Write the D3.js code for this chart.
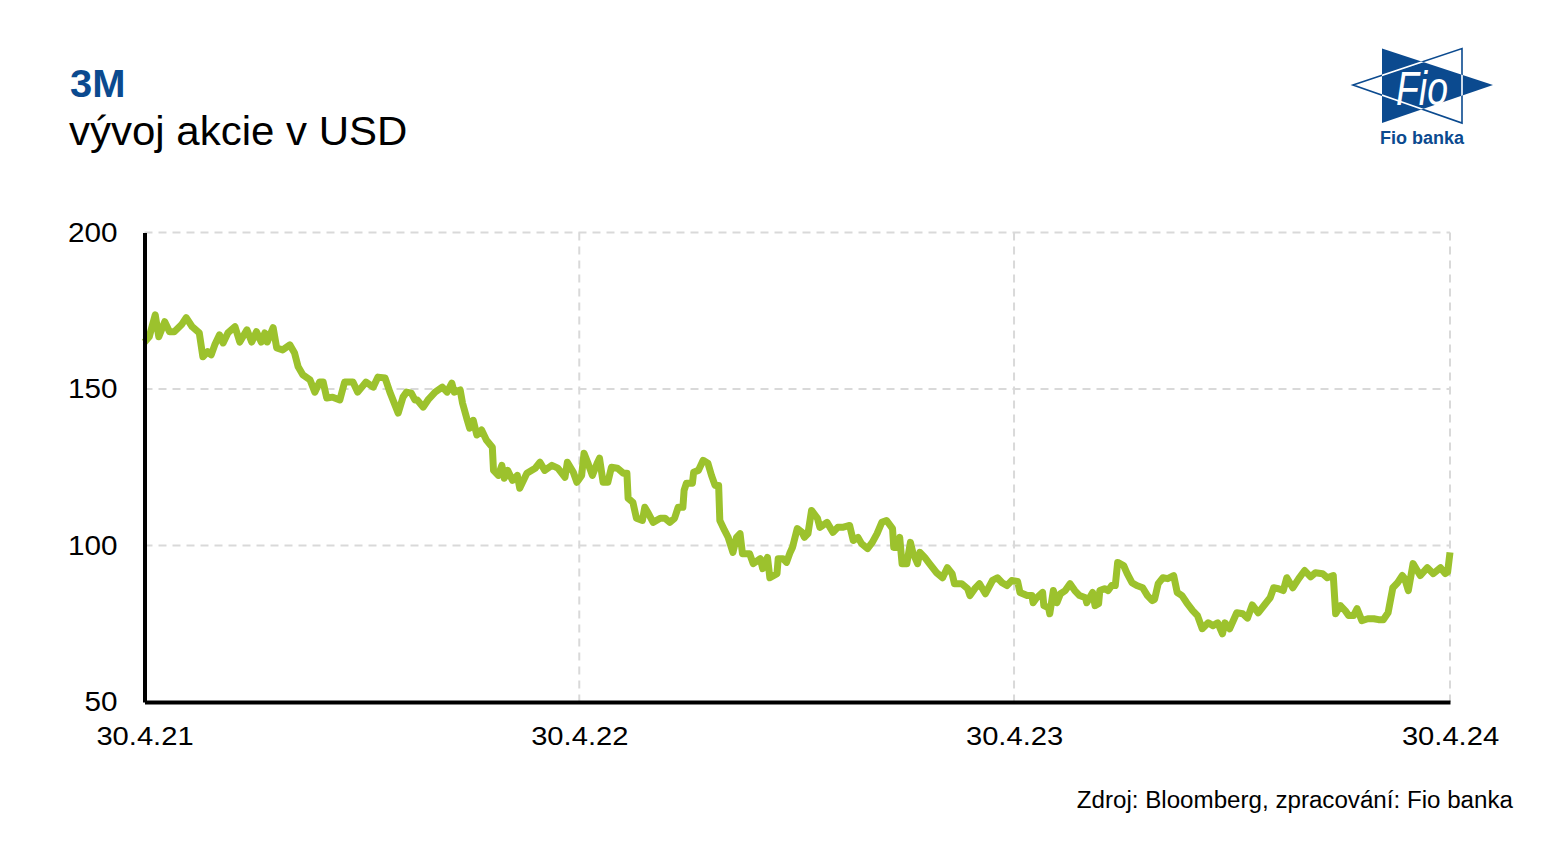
<!DOCTYPE html>
<html><head><meta charset="utf-8">
<script src="https://cdn.jsdelivr.net/npm/d3@7"></script>
<style>
body{margin:0;background:#fff}
svg{display:block}
text{font-family:"Liberation Sans",Arial,sans-serif}
</style>
</head><body>
<svg id="chart" width="1549" height="856"></svg>
<script>
// ---- data ----
const startDate = "2021-04-30";
const daysSinceStart = [
0,4,9,12,17,21,25,31,35,40,46,49,53,56,59,63,66,70,76,80,
86,90,94,98,101,103,108,111,116,122,126,129,133,139,143,147,150,153,158,164,
168,175,179,186,192,196,202,206,213,217,220,224,227,229,234,238,244,250,254,258,
260,265,267,271,273,276,279,283,287,292,293,297,300,302,305,309,313,315,321,328,
332,336,342,347,353,355,360,363,367,369,372,376,380,382,385,389,392,397,402,405,
406,410,413,418,420,423,427,433,437,441,445,448,452,453,455,460,461,465,469,473,
476,479,482,483,487,490,494,497,500,502,508,511,517,519,523,525,531,532,536,539,
542,544,548,552,554,557,560,565,567,573,578,582,586,592,595,599,602,607,611,615,
619,623,628,629,632,634,636,640,643,645,649,651,655,659,665,670,674,678,680,686,
691,693,697,701,706,712,716,720,724,728,733,735,741,745,746,749,754,755,759,760,
763,766,769,773,777,781,785,790,791,796,798,801,802,806,809,812,815,817,822,825,
829,833,838,842,846,848,851,855,859,864,867,871,875,880,884,888,893,897,901,905,
907,911,917,922,926,930,935,941,945,948,952,956,959,964,969,974,979,983,989,993,
998,1000,1004,1008,1011,1015,1018,1022,1027,1032,1036,1040,1044,1048,1052,1056,1058,1061,1065,1071,
1077,1082,1088,1092,1094,1096
];
const closeUSD = [
165,166.7,173.7,166.7,171.5,168.3,168.3,170.5,172.8,169.9,167.9,160.3,161.9,160.9,164.1,167.3,164.7,167.9,169.9,165,
168.9,165,168.3,165,167.9,165,169.6,163.1,162.5,164.1,161.5,157.1,154.5,152.9,149,152.2,152.2,147.1,147.4,146.5,
152.2,152.2,149,152.2,150.6,153.8,153.5,149,142.3,147.4,149,148.7,146.5,146.5,144.2,146.5,149,150.6,149,151.9,
149,149.7,145.5,140,137.5,140,135.3,136.9,133.7,131.4,124,122.4,125.6,121.5,124,120.8,122.4,118.3,123.1,124.7,
126.6,124,125.6,124.7,121.8,126.6,123.4,120.2,122.4,129.5,126.6,122.4,126.3,127.9,120.2,120.2,125,124.7,123.1,123.1,
115.1,113.8,108.7,108,112.2,110.3,107.4,108.7,108.7,107.4,108.7,112.2,112.2,117.6,119.9,119.9,123.4,124,127.2,126.3,
122.4,119.2,119.2,108,104.8,102.6,97.8,102.6,103.8,97.4,97.4,94.2,95.8,92.6,96.2,89.7,91,95.8,95.8,94.6,
97.8,99.4,105.4,104.2,102.6,103.8,111.2,108.7,105.8,107.4,104.2,105.8,105.8,106.4,101.6,102.6,100.6,99,101,103.8,
107.4,108,105.4,99.4,99.4,102.6,94.2,94.2,101,97.8,94.2,97.8,96.2,94.2,91.3,89.7,92.9,91,87.8,87.8,
86.2,84,86.2,87.8,84.6,88.9,89.7,88.1,87.2,88.8,88.5,85,84,84,81.7,83.3,85,80.8,80.1,78.2,
85.6,81.7,84.6,85.6,87.8,85.6,84,83.3,81.7,85,80.8,81.4,85.6,86.2,85.6,87.2,87.2,94.6,93.6,91,
88.1,87.2,86.5,84,82.4,82.8,87.8,89.7,89.4,90.4,85,84,81.7,79.2,77.6,73.4,75.3,74.4,75.3,71.8,
75.3,73.4,78.5,78.2,76.8,81,78.5,81.4,83.3,86.5,86.2,85.6,89.7,86.5,89.4,92,90,91.3,91,89.7,
90.4,78.2,80.8,79.2,77.6,77.6,79.8,76,76.6,76.6,76.3,76.3,78.5,86.5,88.1,90.4,89.4,85.6,94.2,90.4,
92.9,91,92.9,91,91.5,97.8
];
const xTickDates = ["2021-04-30","2022-04-30","2023-04-30","2024-04-30"];
const xTickLabels = ["30.4.21","30.4.22","30.4.23","30.4.24"];
const yTickValues = [50,100,150,200];
const yGridValues = [100,150,200];
const titleText = "3M";
const subtitleText = "vývoj akcie v USD";
const sourceText = "Zdroj: Bloomberg, zpracování: Fio banka";

// ---- build ----
const parse = d3.utcParse("%Y-%m-%d");
const t0 = parse(startDate);
const series = daysSinceStart.map((d,i)=>({date:d3.utcDay.offset(t0,d), value:closeUSD[i]}));

const svg = d3.select("#chart");
const BLUE = "#0b4a8f";
const GREEN = "#9cc22d";

// widen glyphs horizontally (the reference text is slightly wider than Arial)
function stretch(sel, f){
  sel.each(function(){
    const w = this.getComputedTextLength();
    d3.select(this).attr("textLength", w*f).attr("lengthAdjust","spacingAndGlyphs");
  });
}

const x = d3.scaleUtc().domain([parse(xTickDates[0]), parse(xTickDates[3])]).range([144.5, 1450]);
const y = d3.scaleLinear().domain([50,200]).range([702, 232.5]);

// titles
stretch(svg.append("text").attr("x",70).attr("y",97).attr("font-size",38).attr("font-weight","bold")
  .attr("fill",BLUE).text(titleText), 1.05);
stretch(svg.append("text").attr("x",69).attr("y",145).attr("font-size",40).attr("fill","#000").text(subtitleText), 1.05);

// grid
const grid = svg.append("g").attr("stroke","#d9d9d9").attr("stroke-width",2).attr("stroke-dasharray","8,6");
grid.selectAll("line.h").data(yGridValues).join("line").attr("class","h")
  .attr("x1",x.range()[0]).attr("x2",x.range()[1]).attr("y1",d=>y(d)).attr("y2",d=>y(d));
grid.selectAll("line.v").data(xTickDates.slice(1)).join("line").attr("class","v")
  .attr("x1",d=>x(parse(d))).attr("x2",d=>x(parse(d))).attr("y1",y(200)).attr("y2",y(50));

// line
const line = d3.line().x(d=>x(d.date)).y(d=>y(d.value)).curve(d3.curveLinear);
svg.append("path").datum(series).attr("d",line).attr("fill","none").attr("stroke",GREEN)
  .attr("stroke-width",7).attr("stroke-linejoin","round").attr("stroke-linecap","butt");

// axes
const yAxis = d3.axisLeft(y).tickValues(yTickValues).tickSize(0).tickPadding(27).tickFormat(d3.format("d"));
const gy = svg.append("g").attr("transform",`translate(${x.range()[0]},0)`).call(yAxis);
gy.select(".domain").attr("stroke","#000").attr("stroke-width",4);
gy.selectAll("text").attr("font-size",27).attr("fill","#000").attr("font-family","Liberation Sans, Arial, sans-serif");
stretch(gy.selectAll("text"), 1.1);

const xAxis = d3.axisBottom(x).tickValues(xTickDates.map(parse)).tickSize(0).tickPadding(24)
  .tickFormat((d,i)=>xTickLabels[i]);
const gx = svg.append("g").attr("transform",`translate(0,${y(50)})`).call(xAxis);
gx.select(".domain").attr("stroke","#000").attr("stroke-width",4);
gx.selectAll("text").attr("font-size",26.5).attr("fill","#000").attr("font-family","Liberation Sans, Arial, sans-serif");
stretch(gx.selectAll("text"), 1.1);

// source
stretch(svg.append("text").attr("x",1513).attr("y",808).attr("text-anchor","end").attr("font-size",23)
  .attr("fill","#000").text(sourceText), 1.05);

// logo
const logo = svg.append("g");
const leftTri = "M1353,85 L1462,48.5 L1462,123 Z";
const rightTri = "M1382,48.5 L1493,85 L1382,123 Z";
logo.append("path").attr("d",leftTri).attr("fill","#fff").attr("stroke",BLUE).attr("stroke-width",1.6);
logo.append("path").attr("d",rightTri).attr("fill",BLUE);
svg.append("defs").append("clipPath").attr("id","rt").append("path").attr("d",rightTri);
logo.append("path").attr("d",leftTri).attr("fill","none").attr("stroke","#fff").attr("stroke-width",1.6)
  .attr("clip-path","url(#rt)");
logo.append("text").attr("x",1396).attr("y",105).attr("font-family","Liberation Serif, serif")
  .attr("font-style","italic").attr("font-size",48).attr("fill","#fff")
  .attr("textLength",52).attr("lengthAdjust","spacingAndGlyphs").text("Fio");
logo.append("text").attr("x",1422).attr("y",144).attr("text-anchor","middle").attr("font-weight","bold")
  .attr("font-size",18).attr("fill",BLUE).text("Fio banka");
</script>
</body></html>
